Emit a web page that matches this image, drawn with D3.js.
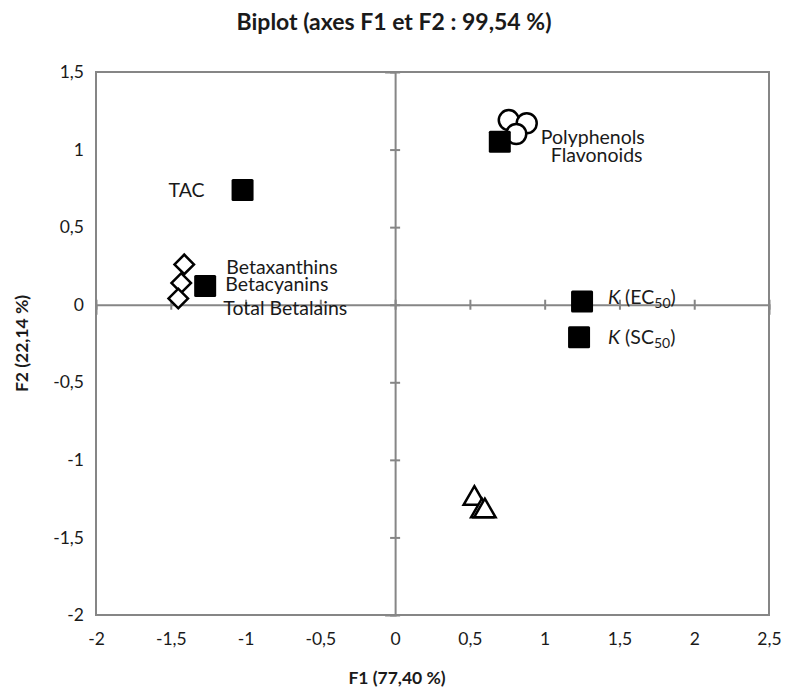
<!DOCTYPE html>
<html>
<head>
<meta charset="utf-8">
<script src="https://cdn.jsdelivr.net/npm/d3@7"></script>
<style>
  body { margin: 0; background: #fff; }
  text { font-family: Lato, "Open Sans", sans-serif; fill: #1a1a1a; }
</style>
</head>
<body>
<div id="chart"></div>
<script>
// active variables (filled squares)
const varNames = ['TAC', 'Betacyanins', 'Polyphenols', 'K_EC50', 'K_SC50'];
const varF1 = [-1.02, -1.27, 0.70, 1.25, 1.23];
const varF2 = [0.74, 0.12, 1.05, 0.02, -0.21];

// observations, one group per marker shape
const diamondF1 = [-1.41, -1.43, -1.45];
const diamondF2 = [0.26, 0.14, 0.04];
const circleF1 = [0.76, 0.88, 0.81];
const circleF2 = [1.19, 1.17, 1.10];
const triangleF1 = [0.53, 0.58, 0.60];
const triangleF2 = [-1.25, -1.33, -1.33];

// text labels (data coordinates they sit next to)
const labelText = ['TAC', 'Betaxanthins', 'Betacyanins', 'Total Betalains', 'Polyphenols', 'Flavonoids', 'K_EC50', 'K_SC50'];
const labelF1 = [-1.02, -1.41, -1.43, -1.45, 0.70, 0.70, 1.25, 1.23];
const labelF2 = [0.74, 0.26, 0.14, 0.04, 1.05, 1.05, 0.02, -0.21];

const xTicks = [-2, -1.5, -1, -0.5, 0, 0.5, 1, 1.5, 2, 2.5];
const yTicks = [-2, -1.5, -1, -0.5, 0, 0.5, 1, 1.5];

const width = 786, height = 690;
const margin = {top: 72, right: 17, bottom: 75, left: 96};

const fmt = d => String(d).replace('.', ',');

const svg = d3.select('#chart').append('svg')
  .attr('width', width)
  .attr('height', height);

const x = d3.scaleLinear().domain([-2, 2.5]).range([margin.left, width - margin.right]);
const y = d3.scaleLinear().domain([-2, 1.5]).range([height - margin.bottom, margin.top]);

const grey = '#868686';

// frame
svg.append('rect')
  .attr('x', x(-2)).attr('y', y(1.5))
  .attr('width', x(2.5) - x(-2)).attr('height', y(-2) - y(1.5))
  .attr('fill', 'none').attr('stroke', grey).attr('stroke-width', 2);

// zero axes with crossing ticks
const xZero = svg.append('g')
  .attr('transform', `translate(0,${y(0)})`)
  .call(d3.axisBottom(x).tickValues(xTicks).tickSize(10).tickFormat(''));
xZero.selectAll('.tick line').attr('y1', -5).attr('y2', 5);

const yZero = svg.append('g')
  .attr('transform', `translate(${x(0)},0)`)
  .call(d3.axisLeft(y).tickValues(yTicks).tickSize(10).tickFormat(''));
yZero.selectAll('.tick line').attr('x1', -5).attr('x2', 5);

[xZero, yZero].forEach(g => {
  g.select('.domain').attr('stroke', grey).attr('stroke-width', 2);
  g.selectAll('.tick line').attr('stroke', grey).attr('stroke-width', 2);
});

// tick labels along the frame
svg.append('g')
  .attr('transform', `translate(0,${y(-2)})`)
  .call(d3.axisBottom(x).tickValues(xTicks).tickSize(0).tickPadding(18).tickFormat(fmt))
  .call(g => g.select('.domain').remove())
  .selectAll('text')
  .style('font-family', 'Lato, sans-serif')
  .style('font-size', '17.5px')
  .attr('fill', '#1a1a1a');

svg.append('g')
  .attr('transform', `translate(${x(-2)},0)`)
  .call(d3.axisLeft(y).tickValues(yTicks).tickSize(0).tickPadding(12).tickFormat(fmt))
  .call(g => g.select('.domain').remove())
  .selectAll('text')
  .style('font-family', 'Lato, sans-serif')
  .style('font-size', '17.5px')
  .attr('fill', '#1a1a1a');

// observations
const diamond = d3.symbol().type(d3.symbolSquare).size(190);
svg.append('g').selectAll('path')
  .data(d3.range(diamondF1.length))
  .join('path')
  .attr('d', diamond)
  .attr('transform', i => `translate(${x(diamondF1[i])},${y(diamondF2[i])}) rotate(45)`)
  .attr('fill', '#fff').attr('stroke', '#000').attr('stroke-width', 2.5);

svg.append('g').selectAll('circle')
  .data(d3.range(circleF1.length))
  .join('circle')
  .attr('cx', i => x(circleF1[i]))
  .attr('cy', i => y(circleF2[i]))
  .attr('r', 10)
  .attr('fill', '#fff').attr('stroke', '#000').attr('stroke-width', 2.5);

const tri = d3.symbol().type(d3.symbolTriangle).size(200);
svg.append('g').selectAll('path')
  .data(d3.range(triangleF1.length))
  .join('path')
  .attr('d', tri)
  .attr('transform', i => `translate(${x(triangleF1[i])},${y(triangleF2[i])})`)
  .attr('fill', '#fff').attr('stroke', '#000').attr('stroke-width', 2.5);

// variables
svg.append('g').selectAll('rect')
  .data(d3.range(varF1.length))
  .join('rect')
  .attr('x', i => x(varF1[i]) - 11)
  .attr('y', i => y(varF2[i]) - 11)
  .attr('width', 22).attr('height', 22)
  .attr('rx', 1.5)
  .attr('fill', '#000');

// label offsets (px) relative to the point
const labelOffset = {
  'TAC': [-74, 7],
  'Betaxanthins': [42, 10],
  'Betacyanins': [44, 8],
  'Total Betalains': [45, 16],
  'Polyphenols': [41, 2],
  'Flavonoids': [51, 20],
  'K_EC50': [26, 2],
  'K_SC50': [29, 7]
};

const labels = svg.append('g').selectAll('text')
  .data(d3.range(labelText.length))
  .join('text')
  .attr('x', i => x(labelF1[i]) + labelOffset[labelText[i]][0])
  .attr('y', i => y(labelF2[i]) + labelOffset[labelText[i]][1])
  .style('font-size', '19.5px');

labels.each(function (i) {
  const t = d3.select(this);
  const name = labelText[i];
  if (name.startsWith('K_')) {
    t.append('tspan').style('font-style', 'italic').text('K');
    t.append('tspan').text(name === 'K_EC50' ? ' (EC' : ' (SC');
    t.append('tspan').attr('dy', 4).style('font-size', '14px').text('50');
    t.append('tspan').attr('dy', -4).text(')');
  } else {
    t.text(name);
  }
});

// titles
svg.append('text')
  .attr('x', 394).attr('y', 30)
  .attr('text-anchor', 'middle')
  .style('font-size', '23px').style('font-weight', 'bold')
  .text('Biplot (axes F1 et F2 : 99,54 %)');

svg.append('text')
  .attr('x', 397).attr('y', 684)
  .attr('text-anchor', 'middle')
  .style('font-size', '17.5px').style('font-weight', 'bold')
  .text('F1 (77,40 %)');

svg.append('text')
  .attr('transform', `translate(28,${y(-0.25)}) rotate(-90)`)
  .attr('text-anchor', 'middle')
  .style('font-size', '17.5px').style('font-weight', 'bold')
  .text('F2 (22,14 %)');
</script>
</body>
</html>
